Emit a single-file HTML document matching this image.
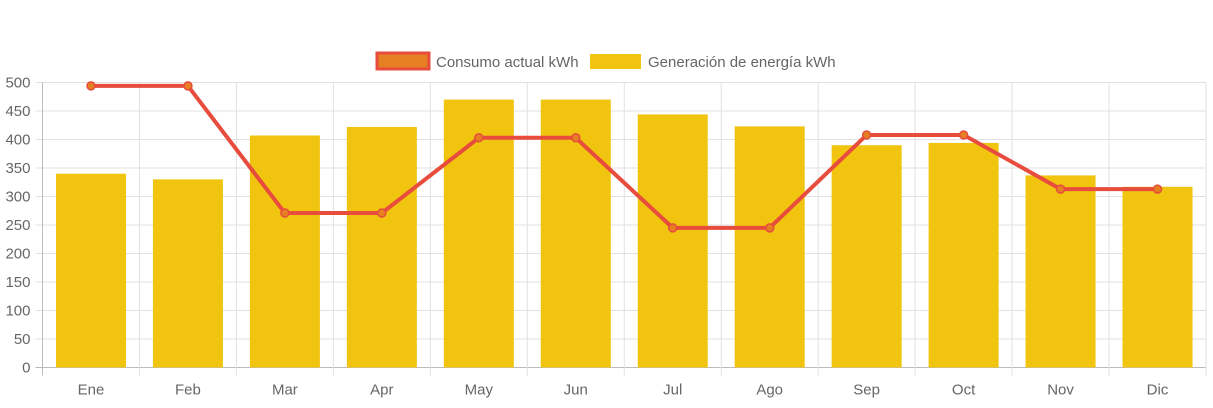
<!DOCTYPE html>
<html><head><meta charset="utf-8"><style>
body{margin:0;background:#fff;}
svg text{font-family:"Liberation Sans",Arial,sans-serif;fill:#666;}
</style></head><body>
<svg id="chart" width="1213" height="403" xmlns="http://www.w3.org/2000/svg">
<g>
<g>
<rect x="377" y="53" width="52" height="16" fill="#e67e22" stroke="#e74c3c" stroke-width="3"/>
<text x="436" y="67" font-size="15">Consumo actual kWh</text></g>
<g>
<rect x="590" y="54" width="51" height="15" fill="#f1c40f"/>
<text x="648" y="67" font-size="15">Generación de energía kWh</text></g>
</g>
<g id="grid"></g>
<g id="bars"></g>
<g id="line"></g>
<g id="axes"></g>
</svg>
<script>
const categories=["Ene","Feb","Mar","Apr","May","Jun","Jul","Ago","Sep","Oct","Nov","Dic"];
const generacion=[340,330,407,422,470,470,444,423,390,394,337,317];
const consumo=[494,494,271,271,403,403,245,245,408,408,313,313];
const yTicks=[0,50,100,150,200,250,300,350,400,450,500];
const NS="http://www.w3.org/2000/svg";
const L=42.5,R=1206,T=82.5,B=367.5,yMax=500;
const bw=(R-L)/categories.length;
const x=i=>L+bw*(i+0.5);
const y=v=>B-(v/yMax)*(B-T);
function mk(tag,attrs,parent){const e=document.createElementNS(NS,tag);for(const k in attrs)e.setAttribute(k,attrs[k]);parent.appendChild(e);return e;}
const grid=document.getElementById('grid'),bars=document.getElementById('bars'),line=document.getElementById('line'),axes=document.getElementById('axes');
yTicks.forEach(t=>{
 const g=mk('line',{x1:L-7,x2:R,y1:y(t),y2:y(t),stroke:t===0?'#bbb':'#e1e1e1','stroke-width':1},grid);
 
 
 const tx=mk('text',{x:L-12,y:y(t)+5,'text-anchor':'end','font-size':15},axes);
 tx.textContent=t;
 
 
});
for(let i=0;i<=categories.length;i++){
 const gx=L+bw*i;
 const g=mk('line',{x1:gx,x2:gx,y1:T,y2:B+8,stroke:i===0?'#bbb':'#e1e1e1','stroke-width':1},grid);
 
 
}
categories.forEach((c,i)=>{
 const tx=mk('text',{x:x(i),y:B+27,'text-anchor':'middle','font-size':15},axes);
 tx.textContent=c;
 
 
 const w=70;
 const b=mk('rect',{x:x(i)-w/2,y:y(generacion[i]),width:w,height:B-y(generacion[i]),fill:'#f1c40f'},bars);
 
 
});
const pts=consumo.map((v,i)=>x(i)+','+y(v)).join(' ');
const pl=mk('polyline',{points:pts,fill:'none',stroke:'#e74c3c','stroke-width':4,'stroke-linejoin':'round'},line);


consumo.forEach((v,i)=>{
 const p=mk('circle',{cx:x(i),cy:y(v),r:4,fill:'#e67e22',stroke:'#e74c3c','stroke-width':1.5},line);
 
 
});
</script>
</body></html>
